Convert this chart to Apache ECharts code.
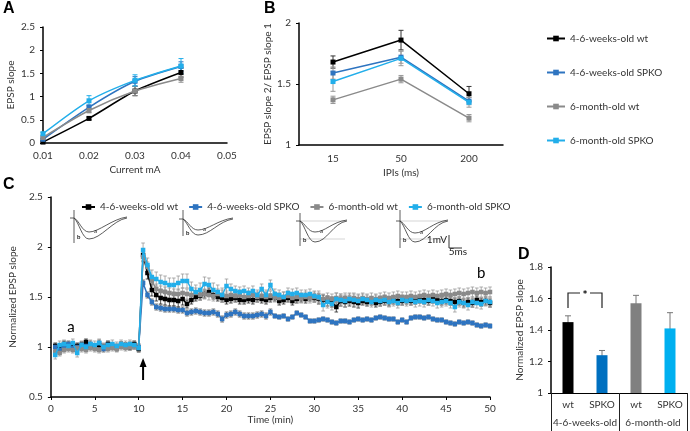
<!DOCTYPE html>
<html><head><meta charset="utf-8">
<script src="https://cdn.jsdelivr.net/npm/echarts@6/dist/echarts.min.js"></script>
<style>html,body{margin:0;padding:0;background:#fff}#c{width:690px;height:431px}</style>
</head><body><div id="c"></div>
<script>
// ---------- DATA ----------
const groups = ['4-6-weeks-old wt', '4-6-weeks-old SPKO', '6-month-old wt', '6-month-old SPKO'];

// Panel A: input-output
const currentsA = [0.01, 0.02, 0.03, 0.04];
const aWt4 = [0.02, 0.53, 1.12, 1.52];
const aKo4 = [0.08, 0.77, 1.33, 1.65];
const aWt6 = [0.12, 0.70, 1.12, 1.39];
const aKo6 = [0.20, 0.91, 1.35, 1.66];
const aWt4Err = [0.01, 0.03, 0.10, 0.10];
const aKo4Err = [0.02, 0.05, 0.10, 0.10];
const aWt6Err = [0.02, 0.05, 0.10, 0.08];
const aKo6Err = [0.03, 0.11, 0.12, 0.16];

// Panel B: paired-pulse ratio
const ipis = ['15', '50', '200'];
const bWt4 = [1.68, 1.86, 1.42];
const bKo4 = [1.59, 1.72, 1.36];
const bWt6 = [1.37, 1.54, 1.22];
const bKo6 = [1.52, 1.71, 1.35];
const bWt4Err = [0.05, 0.08, 0.06];
const bKo4Err = [0.05, 0.05, 0.03];
const bWt6Err = [0.03, 0.03, 0.03];
const bKo6Err = [0.08, 0.06, 0.04];

// Panel C: LTP time course, one sample every 0.5 min (0.5 .. 50)
const sampleStepMin = 0.5;
const cWt4 = [
  1.01, 0.98, 1.03, 1.02, 1.00, 1.01, 1.02, 1.05, 1.01, 1.00,
  1.02, 1.00, 1.03, 1.01, 0.99, 1.02, 1.01, 1.00, 1.03, 0.98,
  1.92, 1.74, 1.57, 1.52, 1.49, 1.48, 1.47, 1.47, 1.46, 1.48,
  1.43, 1.47, 1.50, 1.51, 1.53, 1.55, 1.52, 1.50, 1.49, 1.47,
  1.48, 1.49, 1.47, 1.47, 1.48, 1.47, 1.49, 1.48, 1.47, 1.49,
  1.50, 1.46, 1.47, 1.49, 1.46, 1.48, 1.49, 1.48, 1.50, 1.49,
  1.48, 1.47, 1.46, 1.45, 1.40, 1.46, 1.45, 1.46, 1.45, 1.44,
  1.46, 1.45, 1.46, 1.44, 1.45, 1.46, 1.45, 1.47, 1.46, 1.46,
  1.47, 1.46, 1.47, 1.48, 1.47, 1.46, 1.48, 1.47, 1.46, 1.47,
  1.46, 1.45, 1.46, 1.44, 1.45, 1.44, 1.47, 1.45, 1.46, 1.44
];
const cKo4 = [
  1.00, 0.97, 1.01, 1.03, 0.99, 1.00, 1.02, 1.01, 1.03, 1.00,
  1.04, 0.98, 1.02, 1.01, 1.00, 1.02, 1.01, 1.02, 1.01, 1.00,
  1.64, 1.52, 1.45, 1.40, 1.39, 1.38, 1.38, 1.38, 1.37, 1.37,
  1.34, 1.35, 1.36, 1.35, 1.34, 1.34, 1.35, 1.33, 1.28, 1.32,
  1.33, 1.35, 1.33, 1.31, 1.31, 1.31, 1.32, 1.33, 1.31, 1.35,
  1.31, 1.30, 1.31, 1.28, 1.30, 1.34, 1.32, 1.30, 1.26, 1.26,
  1.27, 1.28, 1.27, 1.25, 1.24, 1.26, 1.26, 1.25, 1.27, 1.28,
  1.27, 1.28, 1.27, 1.29, 1.30, 1.29, 1.28, 1.28, 1.25, 1.27,
  1.25, 1.29, 1.30, 1.30, 1.29, 1.30, 1.28, 1.27, 1.27, 1.25,
  1.24, 1.23, 1.25, 1.24, 1.25, 1.24, 1.22, 1.21, 1.22, 1.21
];
const cWt6 = [
  0.95, 0.94, 0.97, 0.98, 0.97, 0.99, 0.98, 0.97, 0.99, 0.98,
  0.97, 1.00, 0.98, 0.99, 0.98, 1.00, 0.99, 1.00, 1.01, 0.99,
  1.90, 1.80, 1.66, 1.58, 1.56, 1.55, 1.54, 1.53, 1.53, 1.54,
  1.53, 1.52, 1.54, 1.52, 1.53, 1.52, 1.51, 1.53, 1.52, 1.51,
  1.52, 1.51, 1.52, 1.50, 1.51, 1.52, 1.50, 1.51, 1.50, 1.51,
  1.50, 1.49, 1.50, 1.51, 1.49, 1.50, 1.49, 1.50, 1.49, 1.50,
  1.49, 1.48, 1.49, 1.48, 1.49, 1.48, 1.49, 1.48, 1.49, 1.48,
  1.49, 1.48, 1.49, 1.48, 1.49, 1.50, 1.49, 1.50, 1.51, 1.50,
  1.50, 1.51, 1.50, 1.51, 1.52, 1.51, 1.52, 1.51, 1.52, 1.53,
  1.52, 1.53, 1.54, 1.53, 1.54, 1.55, 1.54, 1.55, 1.54, 1.55
];
const cKo6 = [
  0.92, 1.02, 1.03, 1.01, 1.04, 0.94, 1.02, 1.00, 1.03, 1.02,
  1.04, 1.00, 1.02, 1.03, 1.01, 1.03, 1.02, 1.03, 1.02, 0.99,
  1.97, 1.82, 1.70, 1.68, 1.65, 1.64, 1.62, 1.62, 1.64, 1.66,
  1.66, 1.58, 1.55, 1.57, 1.63, 1.62, 1.57, 1.55, 1.52, 1.61,
  1.58, 1.56, 1.55, 1.56, 1.54, 1.56, 1.52, 1.58, 1.52, 1.62,
  1.53, 1.52, 1.50, 1.54, 1.53, 1.54, 1.52, 1.52, 1.53, 1.51,
  1.50, 1.42, 1.45, 1.43, 1.48, 1.47, 1.46, 1.48, 1.47, 1.46,
  1.48, 1.47, 1.45, 1.47, 1.46, 1.47, 1.45, 1.46, 1.44, 1.47,
  1.46, 1.47, 1.45, 1.46, 1.45, 1.47, 1.46, 1.44, 1.45, 1.46,
  1.44, 1.40, 1.45, 1.44, 1.42, 1.45, 1.44, 1.43, 1.46, 1.45
];
// typical SEM per 5-min window (10 windows)
const cWt4Err = [0.03, 0.03, 0.06, 0.04, 0.04, 0.04, 0.05, 0.04, 0.04, 0.04];
const cKo4Err = [0.03, 0.03, 0.03, 0.03, 0.03, 0.02, 0.02, 0.02, 0.02, 0.02];
const cWt6Err = [0.03, 0.03, 0.05, 0.05, 0.05, 0.05, 0.05, 0.05, 0.05, 0.05];
const cKo6Err = [0.04, 0.04, 0.07, 0.07, 0.05, 0.05, 0.06, 0.05, 0.05, 0.05];

// Panel D: last-10-min potentiation
const dCats = ['wt', 'SPKO', 'wt', 'SPKO'];
const dGroups = ['4-6-weeks-old', '6-month-old'];
const dVals = [1.45, 1.24, 1.57, 1.41];
const dErr = [0.04, 0.03, 0.05, 0.10];

// ---------- STYLE ----------
const FONT = 'Lato';
const TXT = '#333';
const lineColors = ['#000000', '#2e74c0', '#8a8a8a', '#22aeea'];
const barColors = ['#000000', '#0070c0', '#808080', '#00b0f0'];

const aVals = [aWt4, aKo4, aWt6, aKo6], aErrs = [aWt4Err, aKo4Err, aWt6Err, aKo6Err];
const bVals = [bWt4, bKo4, bWt6, bKo6], bErrs = [bWt4Err, bKo4Err, bWt6Err, bKo6Err];
const cVals = [cWt4, cKo4, cWt6, cKo6], cErrs = [cWt4Err, cKo4Err, cWt6Err, cKo6Err];
const timesC = cWt4.map((_, k) => sampleStepMin * (k + 1));

function errSeries(xi, yi, pts, color, capW, width) {
  return {
    type: 'custom', xAxisIndex: xi, yAxisIndex: yi, silent: true, z: 1,
    data: pts,
    encode: { x: 0, y: [1, 2] },
    renderItem(params, api) {
      const lo = api.coord([api.value(0), api.value(1)]);
      const hi = api.coord([api.value(0), api.value(2)]);
      const st = { stroke: color, lineWidth: width || 1 };
      return { type: 'group', children: [
        { type: 'line', shape: { x1: lo[0], y1: lo[1], x2: hi[0], y2: hi[1] }, style: st },
        { type: 'line', shape: { x1: lo[0] - capW, y1: lo[1], x2: lo[0] + capW, y2: lo[1] }, style: st },
        { type: 'line', shape: { x1: hi[0] - capW, y1: hi[1], x2: hi[0] + capW, y2: hi[1] }, style: st }
      ]};
    }
  };
}

const axLine = { show: true, lineStyle: { color: '#000', width: 1.5 } };
const lbl = { color: TXT, fontSize: 10, fontFamily: FONT };
const nameSt = { color: TXT, fontSize: 10, fontFamily: FONT };

const series = [];
// A
for (let i = 0; i < 4; i++) {
  series.push(errSeries(0, 0, currentsA.map((x, j) => [x, aVals[i][j] - aErrs[i][j], aVals[i][j] + aErrs[i][j]]), lineColors[i] === '#000000' ? '#333' : lineColors[i], 2.5, 1));
}
for (let i = 0; i < 4; i++) {
  series.push({ type: 'line', name: groups[i], xAxisIndex: 0, yAxisIndex: 0,
    data: currentsA.map((x, j) => [x, aVals[i][j]]), symbol: 'rect', symbolSize: 5, smooth: 0.25,
    lineStyle: { width: 1.5, color: lineColors[i] }, itemStyle: { color: lineColors[i] }, z: 3 + i });
}
// B
for (let i = 0; i < 4; i++) {
  series.push(errSeries(1, 1, ipis.map((x, j) => [j, bVals[i][j] - bErrs[i][j], bVals[i][j] + bErrs[i][j]]), lineColors[i] === '#000000' ? '#333' : '#999', 2.5, 1));
}
for (let i = 0; i < 4; i++) {
  series.push({ type: 'line', name: groups[i], xAxisIndex: 1, yAxisIndex: 1,
    data: bVals[i], symbol: 'rect', symbolSize: 5,
    lineStyle: { width: 1.5, color: lineColors[i] }, itemStyle: { color: lineColors[i] }, z: 3 + i });
}
// C
for (let i = 0; i < 4; i++) {
  series.push(errSeries(2, 2, timesC.map((t, k) => {
    const e = cErrs[i][Math.floor(k / 10)];
    return [t, cVals[i][k] - e, cVals[i][k] + e];
  }), i === 0 ? '#222' : (i === 1 ? '#555' : '#999'), 1.8, 0.8));
}
for (let i = 0; i < 4; i++) {
  series.push({ type: 'line', name: groups[i], xAxisIndex: 2, yAxisIndex: 2,
    data: timesC.map((t, k) => [t, cVals[i][k]]), symbol: 'rect', symbolSize: 4.5,
    lineStyle: { width: 1.5, color: lineColors[i] }, itemStyle: { color: lineColors[i] }, z: 3 + i });
}
// D
series.push({ type: 'bar', name: 'D', xAxisIndex: 3, yAxisIndex: 3, barWidth: 11,
  data: dVals.map((v, i) => ({ value: v, itemStyle: { color: barColors[i] } })) });
series.push(errSeries(3, 3, dVals.map((v, i) => [i, v - dErr[i], v + dErr[i]]), '#777', 3, 1));

const option = {
  animation: false,
  textStyle: { fontFamily: FONT },
  grid: [
    { left: 43, top: 27, width: 184, height: 116 },
    { left: 299, top: 23, width: 204, height: 122 },
    { left: 42, top: 197, width: 448, height: 200 },
    { left: 551, top: 267, width: 136, height: 126 }
  ],
  legend: [
    { data: groups, orient: 'vertical', left: 541, top: 27, itemWidth: 18, itemHeight: 7, itemGap: 21,
      textStyle: { fontSize: 10, color: TXT, fontFamily: FONT, lineHeight: 13 } },
    { data: groups, orient: 'horizontal', left: 76, top: 197, itemWidth: 13, itemHeight: 7, itemGap: 10,
      textStyle: { fontSize: 10, color: TXT, fontFamily: FONT } }
  ],
  xAxis: [
    { gridIndex: 0, type: 'value', min: 0.01, max: 0.05, interval: 0.01, axisLine: axLine,
      axisTick: { show: false }, splitLine: { show: false },
      axisLabel: Object.assign({ margin: 8, formatter: v => v.toFixed(2) }, lbl),
      name: 'Current mA', nameLocation: 'middle', nameGap: 22, nameTextStyle: nameSt },
    { gridIndex: 1, type: 'category', data: ipis, axisLine: axLine, axisTick: { show: false },
      axisLabel: Object.assign({ margin: 9 }, lbl),
      name: 'IPIs (ms)', nameLocation: 'middle', nameGap: 23, nameTextStyle: nameSt },
    { gridIndex: 2, type: 'value', min: 0, max: 50, interval: 5, axisLine: axLine,
      axisTick: { show: true, length: 3, lineStyle: { color: '#000' } }, splitLine: { show: false },
      axisLabel: Object.assign({ margin: 7 }, lbl),
      name: 'Time (min)', nameLocation: 'middle', nameGap: 15, nameTextStyle: nameSt },
    { gridIndex: 3, type: 'category', data: dCats, axisLine: { show: true, lineStyle: { color: '#000', width: 1.2 } },
      axisTick: { show: false }, axisLabel: Object.assign({ margin: 7 }, lbl) },
    { gridIndex: 3, type: 'category', data: dGroups, position: 'bottom', offset: 0,
      axisLine: { show: false }, axisTick: { show: true, length: 40, lineStyle: { color: '#222', width: 1 } },
      axisLabel: Object.assign({ margin: 25, interval: 0 }, lbl) }
  ],
  yAxis: [
    { gridIndex: 0, type: 'value', min: 0, max: 2.5, interval: 0.5, axisLine: axLine,
      axisTick: { show: true, length: 3, lineStyle: { color: '#000' } }, splitLine: { show: false },
      axisLabel: Object.assign({ margin: 8 }, lbl),
      name: 'EPSP slope', nameLocation: 'middle', nameGap: 27, nameTextStyle: nameSt },
    { gridIndex: 1, type: 'value', min: 1, max: 2, interval: 0.5, axisLine: axLine,
      axisTick: { show: true, length: 3, lineStyle: { color: '#000' } }, splitLine: { show: false },
      axisLabel: Object.assign({ margin: 8 }, lbl),
      name: 'EPSP slope 2/ EPSP slope 1', nameLocation: 'middle', nameGap: 23, nameTextStyle: nameSt },
    { gridIndex: 2, type: 'value', min: 0.5, max: 2.5, interval: 0.5, axisLine: axLine,
      axisTick: { show: true, length: 3, lineStyle: { color: '#000' } }, splitLine: { show: false },
      axisLabel: Object.assign({ margin: 8 }, lbl),
      name: 'Normalized EPSP slope', nameLocation: 'middle', nameGap: 26, nameTextStyle: nameSt },
    { gridIndex: 3, type: 'value', min: 1, max: 1.8, interval: 0.2, axisLine: axLine,
      axisTick: { show: true, length: 3, lineStyle: { color: '#000' } }, splitLine: { show: false },
      axisLabel: Object.assign({ margin: 8 }, lbl),
      name: 'Normalized EPSP slope', nameLocation: 'middle', nameGap: 20, nameTextStyle: nameSt }
  ],
  series: series
};

const chart = echarts.init(document.getElementById('c'));
chart.setOption(option);

// ---------- annotations ----------
const P = (xi, yi, pt) => chart.convertToPixel({ xAxisIndex: xi, yAxisIndex: yi }, pt);
const g = [];
const panelLbl = (t, x, y) => ({ type: 'text', left: x, top: y, style: { text: t, font: 'bold 16px "Liberation Sans", Arial', fill: '#000' } });
g.push(panelLbl('A', 3, 1), panelLbl('B', 264, 1), panelLbl('C', 3, 177), panelLbl('D', 518, 247));

// C: 'a', 'b' markers and tetanus arrow
const pa = P(2, 2, [2.3, 1.2]), pb = P(2, 2, [49, 1.74]);
g.push({ type: 'text', x: pa[0], y: pa[1], style: { text: 'a', font: '15px Lato', fill: '#000', align: 'center', verticalAlign: 'middle' } });
g.push({ type: 'text', x: pb[0], y: pb[1], style: { text: 'b', font: '15px Lato', fill: '#000', align: 'center', verticalAlign: 'middle' } });
const ar0 = P(2, 2, [10.5, 0.67]), ar1 = P(2, 2, [10.5, 0.87]);
g.push({ type: 'line', shape: { x1: ar0[0], y1: ar0[1], x2: ar1[0], y2: ar1[1] + 5 }, style: { stroke: '#000', lineWidth: 2 } });
g.push({ type: 'polygon', shape: { points: [[ar1[0], ar1[1] - 2], [ar1[0] - 3.5, ar1[1] + 7], [ar1[0] + 3.5, ar1[1] + 7]] }, style: { fill: '#000' } });

// C: example EPSP trace insets (decorative)
const tr = { fill: null, stroke: '#333', lineWidth: 0.8 };
const trL = { fill: null, stroke: '#bbb', lineWidth: 0.6 };
function bz(x1, y1, c1x, c1y, c2x, c2y, x2, y2) {
  return { type: 'bezierCurve', shape: { x1, y1, cpx1: c1x, cpy1: c1y, cpx2: c2x, cpy2: c2y, x2, y2 }, style: tr, silent: true };
}
function ln(x1, y1, x2, y2, st) {
  return { type: 'line', shape: { x1, y1, x2, y2 }, style: st || tr, silent: true };
}
function trace(x0, yb, aMin, bMin, xEnd, yTop, yBot, guides) {
  const xm = x0 + 15;
  const items = [];
  if (guides) {
    items.push(ln(x0, yb, xEnd - 2, yb, trL), ln(x0, bMin - 3, xEnd - 2, bMin - 3, trL));
  }
  items.push(
    ln(x0, yTop, x0, yBot),
    ln(x0 - 4, yb, x0, yb),
    bz(x0, yb, x0 + 5, yb + 2, x0 + 8, aMin, xm, aMin),
    bz(xm, aMin, xm + 10, aMin, xEnd - 15, yb + 1, xEnd, yb - 1),
    bz(x0, yb, x0 + 5, yb + 4, x0 + 8, bMin, xm, bMin),
    bz(xm, bMin, xm + 12, bMin, xEnd - 14, yb + 2, xEnd, yb),
    { type: 'text', x: xm + 5, y: aMin - 4, style: { text: 'a', font: '6px Lato', fill: '#222' } },
    { type: 'text', x: x0 + 3, y: bMin - 5, style: { text: 'b', font: 'bold 6px Lato', fill: '#222' } }
  );
  return items;
}
g.push(...trace(74, 218, 232, 239, 127, 210, 243, false));
g.push(...trace(183, 219, 230, 235, 233, 210, 236, false));
g.push(...trace(300, 221, 232, 242, 347, 213, 246, true));
g.push(...trace(400, 221, 233, 242, 448, 210, 248, true));
// scale bar
g.push({ type: 'polyline', shape: { points: [[449, 235], [449, 248], [462, 248]] }, style: { fill: null, stroke: '#333', lineWidth: 1 } });
g.push({ type: 'text', x: 447, y: 240, style: { text: '1mV', font: '10px Lato', fill: '#222', align: 'right', verticalAlign: 'middle' } });
g.push({ type: 'text', x: 458, y: 252, style: { text: '5ms', font: '10px Lato', fill: '#222', align: 'center', verticalAlign: 'middle' } });

// D: significance bracket
const b0 = P(3, 3, [0, 1.54]), b1 = P(3, 3, [0, 1.635]), b2 = P(3, 3, [1, 1.635]), b3 = P(3, 3, [1, 1.54]);
const mid = (b1[0] + b2[0]) / 2;
const brSt = { fill: null, stroke: '#222', lineWidth: 1.2 };
g.push({ type: 'polyline', shape: { points: [b0, b1, [mid - 5, b1[1]]] }, style: brSt });
g.push({ type: 'polyline', shape: { points: [[mid + 5, b2[1]], b2, b3] }, style: brSt });
g.push({ type: 'text', x: mid, y: b1[1] + 2, style: { text: '*', font: 'bold 12px Lato', fill: '#000', align: 'center', verticalAlign: 'middle' } });

chart.setOption({ graphic: g });
</script>
</body></html>
